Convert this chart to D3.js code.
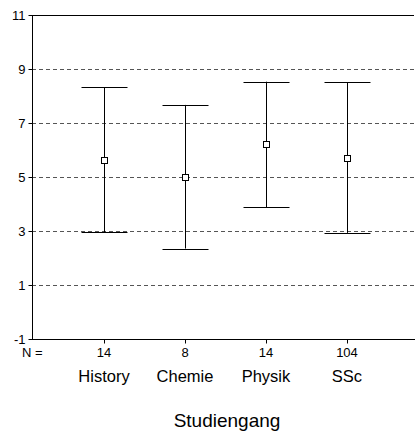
<!DOCTYPE html>
<html>
<head>
<meta charset="utf-8">
<script src="https://cdn.jsdelivr.net/npm/d3@7"></script>
<style>
  body { margin: 0; background: #fff; }
  text { font-family: Arial, "Liberation Sans", sans-serif; fill: #000; }
</style>
</head>
<body>
<script>
const categories = ["History", "Chemie", "Physik", "SSc"]
const counts = [14, 8, 14, 104]
const means = [5.63, 5.01, 6.22, 5.70]
const lower = [2.95, 2.35, 3.88, 2.93]
const upper = [8.33, 7.67, 8.53, 8.51]
const yTicks = [11, 9, 7, 5, 3, 1, -1]
const gridTicks = [9, 7, 5, 3, 1]

const w = 415
const h = 434
const plotLeft = 32    // y axis position
const plotTop = 15     // plot top
const plotBottom = 339 // plot bottom
const plotRight = 414

const svg = d3.select("body")
              .append("svg")
              .attr("width", w)
              .attr("height", h)

const y = d3.scaleLinear().domain([-1, 11]).range([plotBottom, plotTop])
const x = d3.scalePoint().domain(categories).range([104, 347])

// dashed grid lines
svg.selectAll("line.grid")
   .data(gridTicks)
   .enter()
   .append("line")
   .attr("class", "grid")
   .attr("x1", plotLeft)
   .attr("x2", plotRight)
   .attr("y1", d => Math.round(y(d)) + 0.5)
   .attr("y2", d => Math.round(y(d)) + 0.5)
   .attr("stroke", "#555")
   .attr("stroke-dasharray", "4,3")

// frame: left, top, bottom
const frame = svg.append("g").attr("stroke", "#000").attr("fill", "none")
frame.append("line").attr("x1", plotLeft + 0.5).attr("x2", plotLeft + 0.5)
     .attr("y1", plotTop).attr("y2", plotBottom + 1)
frame.append("line").attr("x1", plotLeft).attr("x2", plotRight)
     .attr("y1", plotTop + 0.5).attr("y2", plotTop + 0.5)
frame.append("line").attr("x1", plotLeft).attr("x2", w)
     .attr("y1", plotBottom + 0.5).attr("y2", plotBottom + 0.5)

// y axis ticks and labels (plain hyphen for -1)
const yAxis = d3.axisLeft(y).tickValues(yTicks).tickSize(4).tickPadding(3).tickFormat(d => String(d))
svg.append("g")
   .attr("transform", `translate(${plotLeft + 0.5},0)`)
   .call(yAxis)
   .call(g => g.select(".domain").remove())
   .call(g => g.attr("font-family", null))
   .call(g => g.selectAll("text").style("font-size", "13px"))
   .call(g => g.selectAll("line").attr("stroke", "#000"))

// x axis ticks
svg.append("g")
   .attr("transform", `translate(0,${plotBottom + 0.5})`)
   .call(d3.axisBottom(x).tickSize(4).tickFormat(""))
   .call(g => g.select(".domain").remove())
   .call(g => g.selectAll("line").attr("stroke", "#000"))

// error bars
const bars = svg.selectAll("g.bar")
   .data(categories)
   .enter()
   .append("g")
   .attr("class", "bar")
   .attr("stroke", "#000")
   .attr("fill", "none")

const cx = d => Math.round(x(d)) + 0.5
const cap = 23

bars.append("line")
    .attr("x1", cx).attr("x2", cx)
    .attr("y1", (d, i) => y(upper[i]))
    .attr("y2", (d, i) => y(lower[i]))

bars.append("line")
    .attr("x1", d => cx(d) - cap).attr("x2", d => cx(d) + cap)
    .attr("y1", (d, i) => Math.round(y(upper[i])) + 0.5)
    .attr("y2", (d, i) => Math.round(y(upper[i])) + 0.5)

bars.append("line")
    .attr("x1", d => cx(d) - cap).attr("x2", d => cx(d) + cap)
    .attr("y1", (d, i) => Math.round(y(lower[i])) + 0.5)
    .attr("y2", (d, i) => Math.round(y(lower[i])) + 0.5)

bars.append("rect")
    .attr("x", d => cx(d) - 3)
    .attr("y", (d, i) => Math.round(y(means[i])) - 2.5)
    .attr("width", 6)
    .attr("height", 6)
    .attr("fill", "#fff")

// N row
svg.append("text")
   .attr("x", 22)
   .attr("y", 357)
   .style("font-size", "13px")
   .text("N =")

svg.selectAll("text.n")
   .data(counts)
   .enter()
   .append("text")
   .attr("class", "n")
   .attr("x", (d, i) => x(categories[i]))
   .attr("y", 357)
   .attr("text-anchor", "middle")
   .style("font-size", "13px")
   .text(d => d)

// category labels
svg.selectAll("text.cat")
   .data(categories)
   .enter()
   .append("text")
   .attr("class", "cat")
   .attr("x", d => x(d))
   .attr("y", 382)
   .attr("text-anchor", "middle")
   .style("font-size", "16.5px")
   .text(d => d)

// axis title
svg.append("text")
   .attr("x", 227)
   .attr("y", 427)
   .attr("text-anchor", "middle")
   .style("font-size", "19px")
   .text("Studiengang")
</script>
</body>
</html>
